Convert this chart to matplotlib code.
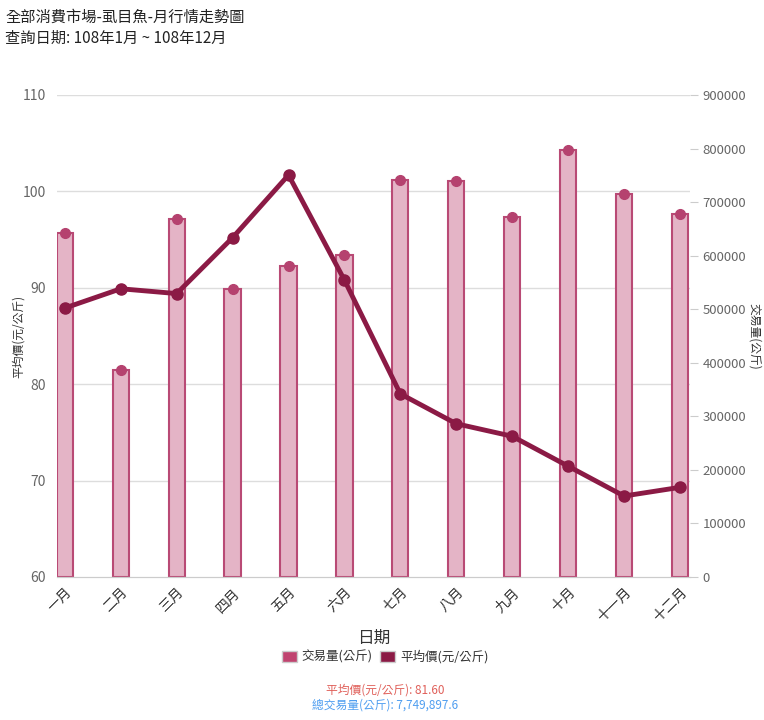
import matplotlib
matplotlib.use("Agg")
import matplotlib.pyplot as plt
from matplotlib.patches import Patch
import numpy as np

plt.rcParams['font.family'] = ['Noto Sans CJK TC', 'DejaVu Sans']

months = ['一月', '二月', '三月', '四月', '五月', '六月', '七月', '八月', '九月', '十月', '十一月', '十二月']
volume = [642000, 386500, 668400, 537700, 580700, 601200, 741200, 739400, 672200, 797200, 715100, 677800]
price = [87.9, 89.9, 89.4, 95.2, 101.7, 90.8, 79.0, 75.9, 74.6, 71.5, 68.4, 69.3]
left_ticks = [60, 70, 80, 90, 100, 110]
right_ticks = [0, 100000, 200000, 300000, 400000, 500000, 600000, 700000, 800000, 900000]

title1 = '全部消費市場-虱目魚-月行情走勢圖'
title2 = '查詢日期: 108年1月 ~ 108年12月'
footer1 = '平均價(元/公斤): 81.60'
footer2 = '總交易量(公斤): 7,749,897.6'

bar_fill = '#e4b4c6'
bar_edge = '#b94a75'
line_col = '#8b1a45'

fig = plt.figure(figsize=(7.64, 7.2), dpi=100)
ax = fig.add_axes([57/764, 1-577/720, (690-57)/764, (577-95)/720])
ax2 = ax.twinx()

x = np.arange(len(months))

# bars on right axis
ax2.bar(x, volume, width=0.29, color=bar_fill, edgecolor=bar_edge, linewidth=1.5, zorder=2)
ax2.plot(x, volume, 'o', color='#b5426f', markersize=7, zorder=3)
ax2.set_ylim(0, 900000)
ax2.set_yticks(right_ticks)
ax2.set_yticklabels([str(v) for v in right_ticks], fontsize=9.5, color='#666666')
ax2.tick_params(axis='y', length=6, color='#cccccc', pad=3)
ax2.set_ylabel('交易量(公斤)', rotation=270, fontsize=8.5, color='#333333', va='center')
ax2.yaxis.set_label_coords((754-57)/633, 0.5)

# line on left axis, draw above bars
ax.set_zorder(ax2.get_zorder() + 1)
ax.patch.set_visible(False)
ax.plot(x, price, '-o', color=line_col, linewidth=3.5, markersize=8, zorder=4)
ax.set_ylim(60, 110)
ax.set_yticks(left_ticks)
ax.set_yticklabels([str(v) for v in left_ticks], fontsize=10, color='#666666')
ax.tick_params(axis='y', length=0, pad=8)
ax.set_ylabel('平均價(元/公斤)', fontsize=8.5, color='#333333', va='center')
ax.yaxis.set_label_coords((18-57)/633, 0.5)
ax.set_xlim(-0.14, 11.18)
ax.set_xticks(x)
ax.set_xticklabels(months, rotation=45, ha='right', rotation_mode='anchor', fontsize=10, color='#333333')
ax.tick_params(axis='x', length=0, pad=6)
ax.set_xlabel('日期', fontsize=12, color='#333333', labelpad=4)

for a in (ax, ax2):
    for s in ['top', 'left', 'right']:
        a.spines[s].set_visible(False)
    a.spines['bottom'].set_color('#cccccc')

ax2.grid(False)
for t in left_ticks[1:]:
    ax2.axhline((t - 60) / 50 * 900000, color='#dddddd', linewidth=1, zorder=0)

# legend
handles = [Patch(facecolor='#c0436f', edgecolor='#cccccc'), Patch(facecolor='#8b1a45', edgecolor='#cccccc')]
fig.legend(handles, ['交易量(公斤)', '平均價(元/公斤)'], loc='center', bbox_to_anchor=(385/764, 1-657/720),
           ncol=2, frameon=False, fontsize=9, handlelength=1.2, handleheight=1.0, handletextpad=0.4,
           columnspacing=0.6, labelcolor='#333333')

fig.text(5/764, 1-17/720, title1, fontsize=11, va='center', ha='left', color='#222222')
fig.text(5/764, 1-38/720, title2, fontsize=11, va='center', ha='left', color='#222222')
fig.text(385/764, 1-690/720, footer1, fontsize=8.5, va='center', ha='center', color='#e0605a')
fig.text(385/764, 1-705/720, footer2, fontsize=8.5, va='center', ha='center', color='#4f9ef0')

fig.savefig('out.png', dpi=100)
